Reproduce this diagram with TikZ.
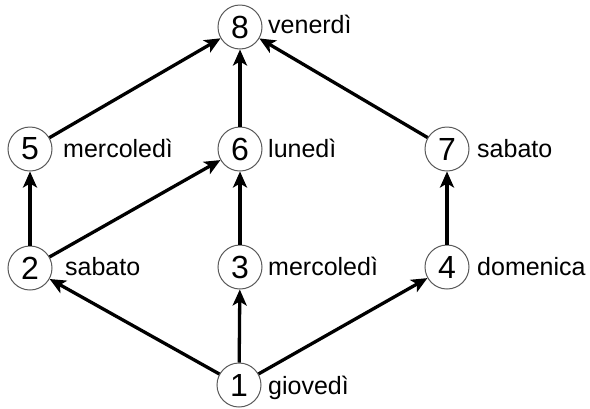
\documentclass[tikz,border=0pt]{standalone}
\usepackage{fontspec}
\setmainfont{Liberation Sans}
\usetikzlibrary{arrows.meta}
\begin{document}
\begin{tikzpicture}[x=1pt,y=-1pt,
 vtx/.style={circle,draw=black!65,line width=1pt,minimum size=44pt,inner sep=0pt,font=\fontsize{32}{32}\selectfont},
 lbl/.style={anchor=base west,inner sep=0pt,font=\fontsize{25}{25}\selectfont},
 arr/.style={line width=3.3pt,-{Stealth[length=16pt,width=14pt,inset=4pt]}}]
\useasboundingbox (0,0) rectangle (590,408);
\node[vtx] (n8) at (240,27) {8};
\node[vtx] (n5) at (30,149) {5};
\node[vtx] (n6) at (240,149) {6};
\node[vtx] (n7) at (447,149) {7};
\node[vtx] (n2) at (30,268) {2};
\node[vtx] (n3) at (240,267) {3};
\node[vtx] (n4) at (447,267) {4};
\node[vtx] (n1) at (239,385) {1};
\node[lbl] (l8) at (268,33) {venerdì};
\node[lbl] (l5) at (63,157) {mercoledì};
\node[lbl] (l6) at (268,157) {lunedì};
\node[lbl] (l7) at (477,157) {sabato};
\node[lbl] (l2) at (65,275) {sabato};
\node[lbl] (l3) at (268,275) {mercoledì};
\node[lbl] (l4) at (477,275) {domenica};
\node[lbl] (l1) at (268,394) {giovedì};
\draw[arr] (n1) -- (n2);
\draw[arr] (n1) -- (n3);
\draw[arr] (n1) -- (n4);
\draw[arr] (n2) -- (n5);
\draw[arr] (n2) -- (n6);
\draw[arr] (n3) -- (n6);
\draw[arr] (n4) -- (n7);
\draw[arr] (n5) -- (n8);
\draw[arr] (n6) -- (n8);
\draw[arr] (n7) -- (n8);
\end{tikzpicture}
\end{document}
